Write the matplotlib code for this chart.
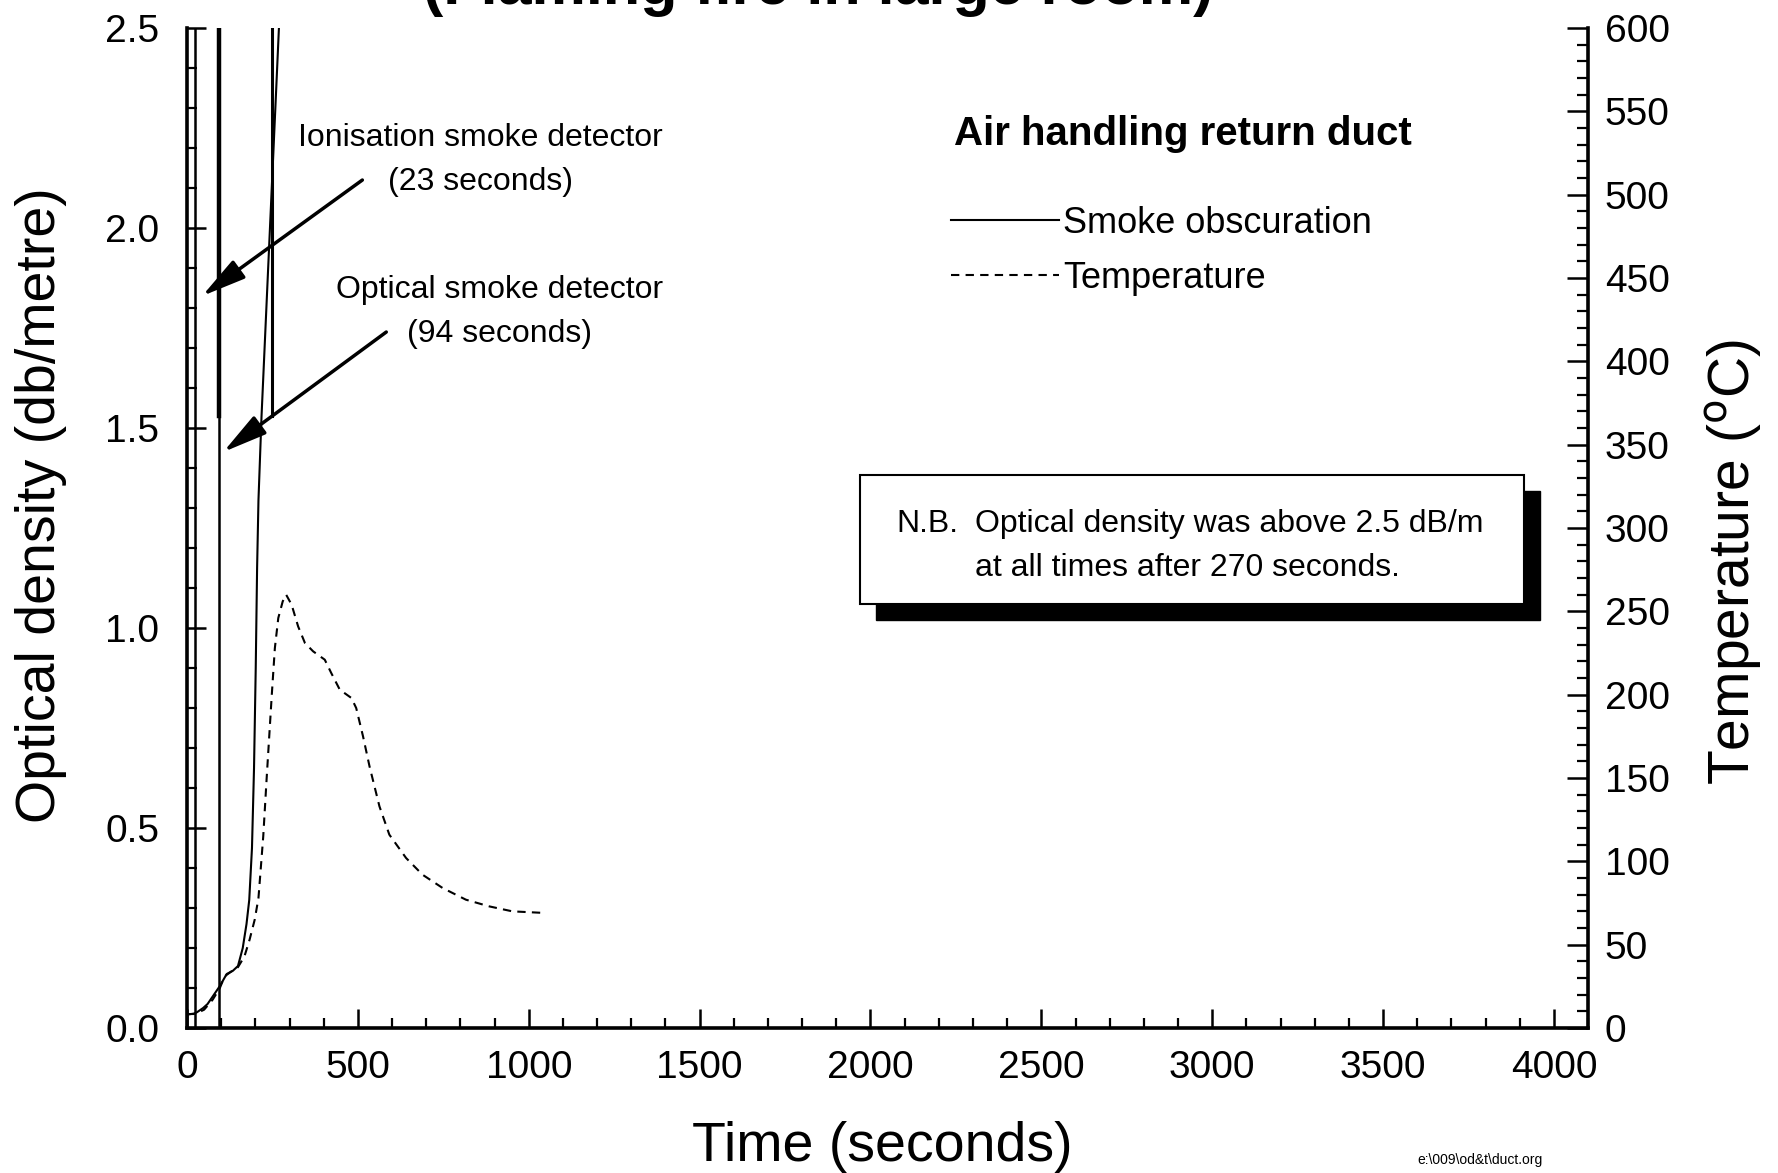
import matplotlib
matplotlib.use('Agg')
import matplotlib.pyplot as plt
from matplotlib.ticker import MultipleLocator, FormatStrFormatter
from matplotlib import patches

plt.rcParams['font.family'] = ['Liberation Sans', 'DejaVu Sans']

# smoke obscuration (optical density, dB/m)
smoke_t = [0, 20, 30, 47, 60, 80, 96, 116, 134, 149, 163, 174, 182, 190,
           196, 201, 205, 209, 218, 240, 260, 272]
smoke_od = [0.035, 0.035, 0.04, 0.05, 0.06, 0.085, 0.105, 0.135, 0.143,
            0.155, 0.20, 0.26, 0.32, 0.45, 0.65, 0.90, 1.15, 1.32, 1.53,
            1.95, 2.33, 2.56]

# temperature (deg C)
temp_t = [0, 30, 50, 75, 96, 110, 130, 149, 168, 183, 198, 209, 223, 233,
          248, 257, 267, 280, 290, 306, 325, 345, 369, 403, 422, 447, 481,
          495, 515, 534, 563, 592, 641, 689, 748, 816, 884, 952, 1050]
temp_c = [8, 9, 11, 17, 24, 31, 34, 36.5, 43, 53, 65, 78, 115, 150,
          200, 228, 246, 256, 260, 254, 241, 231, 226, 221, 213, 203, 198,
          192, 175, 157, 133, 116, 102, 92, 84, 77, 73, 70, 69]

# detector activation markers (seconds)
ion_t = 23
opt_t = 94
# short off-scale segment near 250 s
seg_t = 250
seg_od = [1.53, 2.5]

fig = plt.figure(figsize=(17.78, 11.73), dpi=100)
ax = fig.add_axes([0.1052, 0.1236, 0.7880, 0.8525])
ax2 = ax.twinx()

ax.set_xlim(0, 4100)
ax.set_ylim(0, 2.5)
ax2.set_ylim(0, 600)

smoke_line, = ax.plot(smoke_t, smoke_od, color='k', lw=1.5)
temp_line, = ax2.plot(temp_t, temp_c, color='k', lw=1.5)
temp_line.set_dashes((4, 3))

ax.axvline(ion_t, color='k', lw=1.8)
ax.axvline(opt_t, color='k', lw=1.8)
ax.plot([opt_t, opt_t], seg_od, color='k', lw=3.2)
ax.plot([seg_t, seg_t], seg_od, color='k', lw=2.2)

for a in (ax, ax2):
    a.spines['top'].set_visible(False)
ax.spines['right'].set_visible(False)
ax2.spines['left'].set_visible(False)
ax2.spines['bottom'].set_visible(False)
for s in ('left', 'bottom'):
    ax.spines[s].set_linewidth(2.6)
ax2.spines['right'].set_linewidth(2.6)

ax.xaxis.set_major_locator(MultipleLocator(500))
ax.xaxis.set_minor_locator(MultipleLocator(100))
ax.yaxis.set_major_locator(MultipleLocator(0.5))
ax.yaxis.set_minor_locator(MultipleLocator(0.1))
ax.yaxis.set_major_formatter(FormatStrFormatter('%.1f'))
ax2.yaxis.set_major_locator(MultipleLocator(50))
ax2.yaxis.set_minor_locator(MultipleLocator(10))

ax.tick_params(which='major', direction='in', length=14, width=1.8,
               labelsize=28, top=False, right=False)
ax.tick_params(which='minor', direction='in', length=7, width=1.6,
               top=False, right=False)
ax.tick_params(axis='x', which='major', pad=16)
ax.tick_params(axis='y', which='major', pad=20)
ax2.tick_params(which='major', direction='in', length=15, width=1.8,
                labelsize=28, pad=12, left=False)
ax2.tick_params(which='minor', direction='in', length=8, width=1.6,
                left=False)

# detector annotations
arrow = dict(arrowstyle='-|>,head_length=0.9,head_width=0.22', lw=2.5,
             color='k', mutation_scale=30, shrinkA=0, shrinkB=0)
ax.annotate('', xy=(44, 1.83), xytext=(513, 2.12), arrowprops=arrow)
ax.annotate('', xy=(106, 1.44), xytext=(583, 1.74), arrowprops=arrow)
ax.text(858, 2.17, 'Ionisation smoke detector\n(23 seconds)', fontsize=23,
        ha='center', va='center', linespacing=1.6)
ax.text(914, 1.79, 'Optical smoke detector\n(94 seconds)', fontsize=23,
        ha='center', va='center', linespacing=1.6)

ax.text(2914, 2.235, 'Air handling return duct', fontsize=29,
        fontweight='bold', ha='center', va='center')
ax2.legend([smoke_line, temp_line], ['Smoke obscuration', 'Temperature'],
           loc='upper left', bbox_to_anchor=(0.5453, 0.822), frameon=False,
           fontsize=26, handlelength=3.0, handletextpad=0.1,
           labelspacing=0.55, borderpad=0, borderaxespad=0)

# note box with drop shadow
ax.add_patch(patches.Rectangle((0.4914, 0.408), 0.474, 0.129,
                               transform=ax.transAxes, facecolor='k',
                               edgecolor='k', zorder=5))
ax.add_patch(patches.Rectangle((0.480, 0.424), 0.474, 0.129,
                               transform=ax.transAxes, facecolor='white',
                               edgecolor='k', lw=1.5, zorder=6))
ax.text(0.506, 0.496, 'N.B.', transform=ax.transAxes, fontsize=23,
        ha='left', va='baseline', zorder=7)
ax.text(0.5625, 0.496, 'Optical density was above 2.5 dB/m',
        transform=ax.transAxes, fontsize=23, ha='left', va='baseline',
        zorder=7)
ax.text(0.5625, 0.4525, 'at all times after 270 seconds.',
        transform=ax.transAxes, fontsize=23, ha='left', va='baseline',
        zorder=7)

# title is cut off at the top edge in the original scan
fig.text(0.46, 0.9962, '(Flaming fire in large room)', fontsize=44,
         fontweight='bold', ha='center', va='baseline')
fig.text(0.496, 0.0225, 'Time (seconds)', fontsize=40,
         ha='center', va='center')
fig.text(0.023, 0.5695, 'Optical density (db/metre)', fontsize=40,
         rotation=90, ha='center', va='center')
fig.text(0.9753, 0.521, r'Temperature ($^{\rm o}$C)', fontsize=41,
         rotation=90, ha='center', va='center')
fig.text(0.8324, 0.011, r'e:\009\od&t\duct.org', fontsize=10,
         ha='center', va='center')

fig.savefig('out.png', dpi=100)
